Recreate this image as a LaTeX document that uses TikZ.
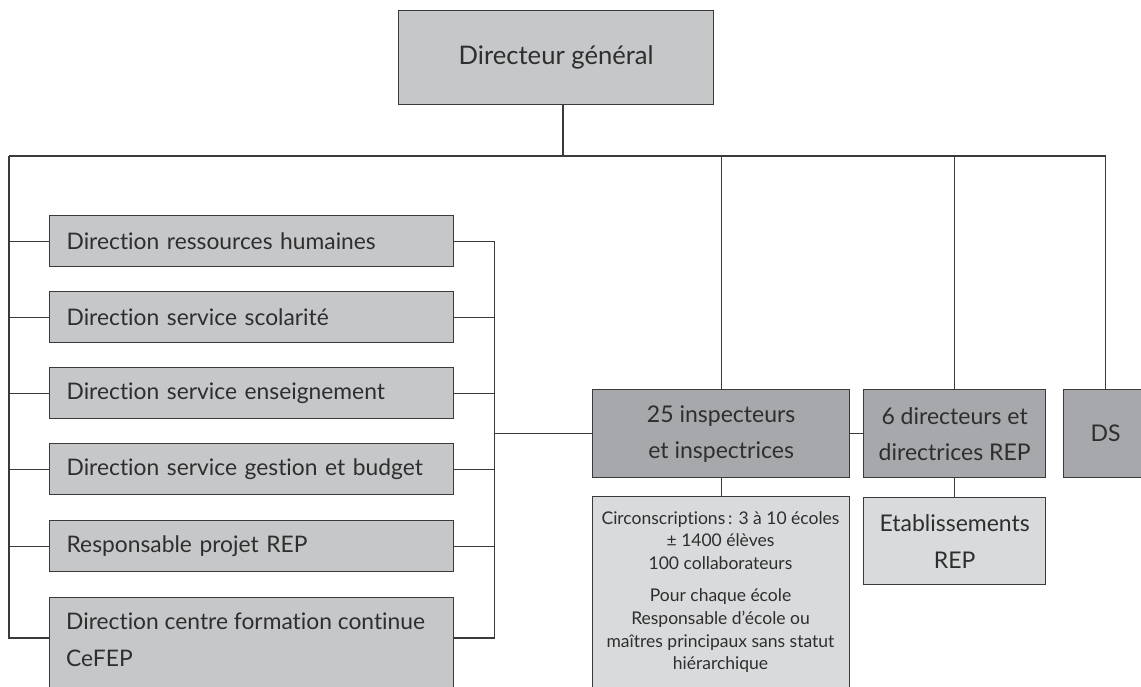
\documentclass[tikz,border=0pt]{standalone}
\usepackage{fontspec}
\setmainfont{Lato}[Ligatures=CommonOff]
\definecolor{boxA}{HTML}{C6C7C9}
\definecolor{boxB}{HTML}{A7A8AB}
\definecolor{boxC}{HTML}{D9DADB}
\definecolor{ln}{HTML}{3A3A3A}
\definecolor{txt}{HTML}{2E2E2E}
\tikzset{
  box/.style={draw=ln, line width=1.3pt, inner sep=0pt, text=txt},
  lbox/.style={box, fill=boxA, minimum width=404pt, minimum height=51pt, anchor=north west,
    align=left, text width=370pt, font=\fontsize{22.8}{37}\selectfont},
  ltext/.style={inner sep=0pt, text=txt, align=left, font=\fontsize{22.8}{37}\selectfont},
  dbox/.style={box, fill=boxB, minimum height=88pt, anchor=north west,
    align=center, font=\fontsize{23}{36}\selectfont},
  sbox/.style={box, fill=boxC, anchor=north west, align=center, font=\fontsize{23}{37}\selectfont},
  stext/.style={inner sep=0pt, text=txt, align=center, font=\fontsize{17.5}{22.8}\selectfont},
  conn/.style={draw=ln, line width=1.3pt}
}
\begin{document}
\begin{tikzpicture}[x=1pt,y=-1pt]
\clip (0,0) rectangle (1141,686);
\fill[white] (0,0) rectangle (1141,686);
% top
\node[box, fill=boxA, minimum width=315pt, minimum height=94pt, anchor=north west,
  font=\fontsize{25.6}{30}\selectfont] (dg) at (398,10) {Directeur général};
\coordinate (j0) at (563,156);
\coordinate (busL) at (9,156);
% left boxes
\node[lbox] (b1) at (49,215) {Direction ressources humaines};
\node[lbox] (b2) at (49,291) {Direction service scolarité};
\node[lbox] (b3) at (49,367) {Direction service enseignement};
\node[lbox] (b4) at (49,443) {Direction service gestion et budget};
\node[lbox] (b5) at (49,520) {Responsable projet REP};
\node[lbox, minimum height=130pt] (b6) at (49,597) {};
\node[ltext, anchor=north west] (t6) at (66,613) {Direction centre formation continue\\CeFEP};
\coordinate (b6l) at (49,638);
\coordinate (b6r) at (453,638);
% right boxes
\node[dbox, minimum width=257pt] (insp) at (592,389) {25 inspecteurs\\et inspectrices};
\node[dbox, minimum width=182pt] (dir) at (863,389) {6 directeurs et\\directrices REP};
\node[dbox, minimum width=84pt] (ds) at (1063,389) {DS};
\node[sbox, minimum width=257pt, minimum height=230pt] (circ) at (592,496) {};
\node[stext, anchor=north] (tc) at (720.5,511) {Circonscriptions\,: 3 à 10 écoles\\± 1400 élèves\\100 collaborateurs\\[9pt]Pour chaque école\\Responsable d’école ou\\maîtres principaux sans statut\\hiérarchique};
\node[sbox, minimum width=182pt, minimum height=87pt] (etab) at (863,497) {Etablissements\\REP};
% connectors
\draw[conn] (dg.south -| j0) -- (j0);
\draw[conn] (busL) -- (ds.north |- busL);
\draw[conn] (busL) |- (b6l);
\foreach \i in {1,...,5}{\draw[conn] (b\i.west) -- (b\i.west -| busL);}
\draw[conn] (b1.east) -- ++(40,0) coordinate (rb1) -- (rb1 |- b6r) -- (b6r);
\foreach \i in {2,...,5}{\draw[conn] (b\i.east) -- (b\i.east -| rb1);}
\draw[conn] (rb1 |- insp.west) -- (insp.west);
\draw[conn] (insp.east) -- (dir.west);
\draw[conn] (insp.north) -- (insp.north |- busL);
\draw[conn] (dir.north) -- (dir.north |- busL);
\draw[conn] (ds.north) -- (ds.north |- busL);
\draw[conn] (insp.south) -- (circ.north);
\draw[conn] (dir.south) -- (etab.north);
\end{tikzpicture}
\end{document}
